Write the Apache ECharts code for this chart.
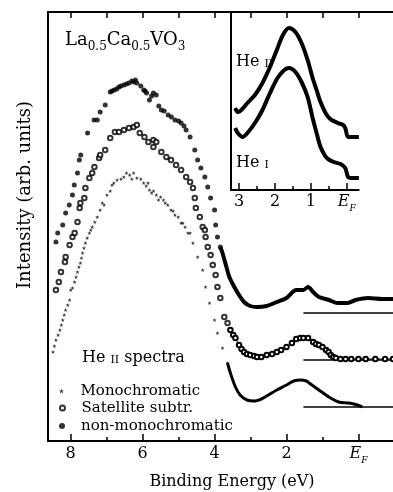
<!DOCTYPE html>
<html>
<head>
<meta charset="utf-8">
<script src="https://cdn.jsdelivr.net/npm/echarts@6/dist/echarts.min.js"></script>
<style>
  html, body { margin: 0; padding: 0; background: #fff; }
  #chart { width: 393px; height: 492px; }
</style>
</head>
<body>
<div id="chart"></div>
<script>
// --- data: [binding energy (eV), intensity (arb.)] ---
const monoDots = [
  [8.49,89],[8.45,95],[8.41,101],[8.35,106],[8.30,111],[8.26,116],[8.22,121],[8.18,126],[8.14,131],
  [8.08,136],[8.03,141],[8.00,151],[7.95,153],[7.89,159],[7.85,164],[7.81,169],[7.77,174],[7.73,178],
  [7.70,183],[7.67,188],[7.63,193],[7.59,198],[7.54,203],[7.48,208],[7.44,211],[7.40,214],[7.33,219],
  [7.26,224],[7.18,231],[7.12,238],[7.07,236],[6.99,246],[6.90,250],[6.85,256],[6.80,258],[6.71,261],
  [6.60,262],[6.52,264],[6.45,268],[6.36,266],[6.30,262],[6.25,268],[6.16,263],[6.05,262],[5.97,258],
  [5.90,255],[5.85,258],[5.81,251],[5.75,248],[5.70,250],[5.62,246],[5.56,241],[5.50,244],[5.42,241],
  [5.37,238],[5.30,236],[5.21,231],[5.15,230],[5.10,226],[5.01,224],[4.93,218],[4.88,218],[4.82,214],
  [4.74,208],[4.68,208],[4.60,198],[4.47,184],[4.33,171],[4.25,154],[4.14,138],[4.00,121],[3.92,108],
  [3.78,93],[3.64,78]
];
const monoTail = [
  [3.64,78],[3.56,68],[3.42,54],[3.29,46],[3.10,41],[2.90,40],[2.70,42],[2.55,45],[2.27,51],[2.00,56],
  [1.80,60],[1.60,61],[1.45,60],[1.37,58],[1.10,51],[0.82,44],[0.55,39],[0.27,38],[0.03,36],[-0.11,34]
];
const satDots = [
  [8.41,151],[8.33,159],[8.27,169],[8.16,179],[8.14,184],[8.03,196],[7.95,204],[7.89,208],[7.81,219],
  [7.75,233],[7.73,238],[7.62,243],[7.59,253],[7.48,263],[7.40,268],[7.34,274],[7.21,283],[7.18,286],
  [7.04,291],[6.90,303],[6.77,309],[6.66,309],[6.52,311],[6.38,313],[6.25,314],[6.16,316],[6.08,308],
  [5.95,304],[5.84,299],[5.70,301],[5.70,294],[5.62,299],[5.48,289],[5.34,284],[5.21,281],[5.07,276],
  [4.93,271],[4.79,264],[4.68,259],[4.60,253],[4.55,243],[4.52,233],[4.41,224],[4.33,214],[4.27,211],
  [4.25,204],[4.19,194],[4.11,186],[4.05,176],[3.97,166],[3.92,154],[3.84,143],[3.73,124],[3.64,118]
];
const satTail = [
  [3.56,111],[3.48,106],[3.42,103],[3.32,96],[3.25,92],[3.18,89],[3.10,87],[3.01,86],[2.90,85],[2.82,84],
  [2.70,84],[2.55,86],[2.40,87],[2.27,89],[2.15,91],[2.00,94],[1.85,98],[1.73,102],[1.62,103],[1.53,103],
  [1.40,103],[1.26,99],[1.18,97],[1.10,96],[1.00,94],[0.90,91],[0.83,89],[0.77,86],[0.70,84],[0.63,83],
  [0.50,82],[0.36,82],[0.20,82],[0.00,82],[-0.20,82],[-0.47,82],[-0.74,82],[-0.96,82]
];
const nonMonoDots = [
  [8.41,199],[8.36,208],[8.22,216],[8.14,228],[8.04,236],[7.95,246],[7.90,256],[7.81,268],[7.76,281],
  [7.72,286],[7.53,308],[7.35,321],[7.26,321],[7.18,329],[7.04,336],[6.90,349],[6.85,350],[6.79,351],
  [6.72,352],[6.66,354],[6.60,355],[6.52,356],[6.45,357],[6.38,358],[6.30,360],[6.25,359],[6.20,361],
  [6.16,358],[6.05,355],[5.97,351],[5.93,350],[5.89,348],[5.81,341],[5.75,345],[5.70,348],[5.62,346],
  [5.55,335],[5.48,331],[5.40,330],[5.29,326],[5.20,324],[5.10,321],[5.00,320],[4.93,318],[4.85,315],
  [4.79,311],[4.68,304],[4.55,291],[4.47,281],[4.38,273],[4.27,264],[4.19,254],[4.11,243],[4.00,231],
  [3.97,216],[3.92,204],[3.84,194]
];
const nonMonoTail = [
  [3.84,194],[3.78,188],[3.67,174],[3.59,164],[3.45,154],[3.32,146],[3.18,139],[3.01,135],[2.82,134],
  [2.55,135],[2.27,139],[2.00,143],[1.73,151],[1.53,151],[1.40,154],[1.26,149],[1.10,144],[0.82,141],
  [0.58,138],[0.30,138],[0.08,141],[-0.27,143],[-0.66,142],[-0.96,142]
];
const baselines = [128, 81, 34];
const baselineFrom = 1.53;

const insetHeII = [
  [3.11,82],[3.04,78],[2.94,80],[2.77,87],[2.56,95],[2.35,107],[2.14,123],[1.95,140],[1.78,155],[1.61,162],
  [1.43,158],[1.26,147],[1.09,130],[0.95,112],[0.84,100],[0.73,88],[0.59,77],[0.46,71],[0.25,67],[0.10,65],
  [0.04,62],[-0.04,53],[-0.17,53],[-0.34,53]
];
const insetHeI = [
  [3.11,62],[3.04,57],[2.90,53],[2.77,57],[2.56,67],[2.35,80],[2.14,97],[1.93,112],[1.74,120],[1.61,122],
  [1.43,118],[1.26,108],[1.09,93],[0.95,72],[0.84,57],[0.73,43],[0.60,34],[0.52,31],[0.36,28],[0.17,26],
  [0.04,22],[-0.04,13],[-0.17,12],[-0.34,12]
];

const mainMajorTicks = [0, 2, 4, 6, 8];
const mainMinorTicks = [1, 3, 5, 7];
const mainTopTicks = [0, 1, 2, 3, 4, 5, 6, 7, 8];
const insetMajorTicks = [0, 1, 2, 3];
const insetMinorTicks = [0.5, 1.5, 2.5];

const FONT = 'DejaVu Serif';
const STAR = 'path://M5,0 L6.2,3.8 L10,3.8 L7,6.2 L8.1,10 L5,7.6 L1.9,10 L3,6.2 L0,3.8 L3.8,3.8 Z';

// --- tick label with E_F ---
const efRich = {
  e: { fontFamily: FONT, fontSize: 16, fontStyle: 'italic', color: '#000', verticalAlign: 'bottom', padding: [0, 0, 3, 0] },
  f: { fontFamily: FONT, fontSize: 9, fontStyle: 'italic', color: '#000', verticalAlign: 'bottom' }
}
const tickFmt = v => (Math.abs(v) < 1e-6 ? '{e|E}{f|F}' : String(v))

const axisBase = (grid, min, max) => ({
  type: 'value', gridIndex: grid, min, max, inverse: true,
  splitLine: { show: false },
  axisLine: { show: false, lineStyle: { color: '#000', width: 2 } },
  axisTick: { show: false },
  axisLabel: { show: false }
})

// He II / He I style label, small-caps numeral
const heLabel = (num, extra) => ({
  text: '{a|He }{b|' + num + '}' + (extra ? '{a|' + extra + '}' : ''),
  verticalAlign: 'middle',
  rich: {
    a: { fontFamily: FONT, fontSize: 16, fill: '#000', verticalAlign: 'bottom' },
    b: { fontFamily: FONT, fontSize: 11, fill: '#000', verticalAlign: 'bottom' }
  }
})

const legendText = { fontFamily: FONT, fontSize: 15, color: '#000', lineHeight: 18 }

const myChart = echarts.init(document.getElementById('chart'), null, { renderer: 'canvas' })

const option = {
  backgroundColor: '#fff',
  animation: false,
  grid: [
    { left: 48, top: 12, width: 350, height: 429 },
    { left: 231, top: 12, width: 170, height: 178 }
  ],
  xAxis: [
    // 0: main bottom, major ticks + labels
    Object.assign(axisBase(0, -0.96, 8.63), {
      position: 'bottom',
      axisLine: { show: true, onZero: false, lineStyle: { color: '#000', width: 2 } },
      axisTick: { show: true, inside: true, length: 7, customValues: mainMajorTicks, lineStyle: { color: '#000', width: 1.5 } },
      axisLabel: { show: true, customValues: mainMajorTicks, formatter: tickFmt, rich: efRich,
        fontFamily: FONT, fontSize: 16, color: '#000', margin: 5 }
    }),
    // 1: main bottom, minor ticks
    Object.assign(axisBase(0, -0.96, 8.63), {
      position: 'bottom',
      axisTick: { show: true, inside: true, length: 4, customValues: mainMinorTicks, lineStyle: { color: '#000', width: 1.5 } }
    }),
    // 2: main top
    Object.assign(axisBase(0, -0.96, 8.63), {
      position: 'top',
      axisLine: { show: true, onZero: false, lineStyle: { color: '#000', width: 2 } },
      axisTick: { show: true, inside: true, length: 6, customValues: mainTopTicks, lineStyle: { color: '#000', width: 1.5 } }
    }),
    // 3: inset bottom, major
    Object.assign(axisBase(1, -0.335, 3.228), {
      position: 'bottom',
      axisLine: { show: true, onZero: false, lineStyle: { color: '#000', width: 2 } },
      axisTick: { show: true, inside: true, length: 7, customValues: insetMajorTicks, lineStyle: { color: '#000', width: 1.5 } },
      axisLabel: { show: true, customValues: insetMajorTicks, formatter: tickFmt, rich: efRich,
        fontFamily: FONT, fontSize: 16, color: '#000', margin: 4 }
    }),
    // 4: inset bottom, minor
    Object.assign(axisBase(1, -0.335, 3.228), {
      position: 'bottom',
      axisTick: { show: true, inside: true, length: 4, customValues: insetMinorTicks, lineStyle: { color: '#000', width: 1.5 } }
    })
  ],
  yAxis: [
    { type: 'value', gridIndex: 0, min: 0, max: 429, splitLine: { show: false },
      axisLine: { show: true, onZero: false, lineStyle: { color: '#000', width: 2 } },
      axisTick: { show: false }, axisLabel: { show: false } },
    { type: 'value', gridIndex: 1, min: 0, max: 178, splitLine: { show: false },
      axisLine: { show: true, onZero: false, lineStyle: { color: '#000', width: 2 } },
      axisTick: { show: false }, axisLabel: { show: false } }
  ],
  legend: [
    { data: [{ name: 'Monochromatic', icon: STAR }], left: 54, top: 377, itemWidth: 28, itemHeight: 5,
      selectedMode: false, textStyle: legendText },
    { data: [{ name: 'Satellite subtr.', icon: 'emptyCircle' }], left: 54, top: 394, itemWidth: 28, itemHeight: 5,
      selectedMode: false, textStyle: legendText },
    { data: [{ name: 'non-monochromatic', icon: 'circle' }], left: 54, top: 412, itemWidth: 28, itemHeight: 6,
      selectedMode: false, textStyle: legendText }
  ],
  series: [
    { name: 'Monochromatic', type: 'scatter', xAxisIndex: 0, yAxisIndex: 0, data: monoDots,
      symbol: STAR, symbolSize: 4, itemStyle: { color: '#000' } },
    { name: 'Monochromatic', type: 'line', xAxisIndex: 0, yAxisIndex: 0, data: monoTail, smooth: 0.3,
      showSymbol: false, lineStyle: { color: '#000', width: 3 }, itemStyle: { color: '#000' } },
    { name: 'Satellite subtr.', type: 'scatter', xAxisIndex: 0, yAxisIndex: 0, data: satDots,
      symbol: 'emptyCircle', symbolSize: 4.5, itemStyle: { color: '#000', borderWidth: 1 } },
    { name: 'Satellite subtr.', type: 'line', xAxisIndex: 0, yAxisIndex: 0, data: satTail, smooth: 0.3,
      symbol: 'emptyCircle', symbolSize: 4.5, showAllSymbol: true,
      lineStyle: { color: '#000', width: 1 }, itemStyle: { color: '#000', borderWidth: 1 } },
    { name: 'non-monochromatic', type: 'scatter', xAxisIndex: 0, yAxisIndex: 0, data: nonMonoDots,
      symbol: 'circle', symbolSize: 5, itemStyle: { color: '#000' } },
    { name: 'non-monochromatic', type: 'line', xAxisIndex: 0, yAxisIndex: 0, data: nonMonoTail, smooth: 0.3,
      showSymbol: false, lineStyle: { color: '#000', width: 4 }, itemStyle: { color: '#000' } },
    ...baselines.map(b => ({
      type: 'line', xAxisIndex: 0, yAxisIndex: 0, data: [[baselineFrom, b], [-0.96, b]],
      showSymbol: false, lineStyle: { color: '#000', width: 1.5 }, silent: true
    })),
    { type: 'line', xAxisIndex: 3, yAxisIndex: 1, data: insetHeII, smooth: 0.3, showSymbol: false,
      lineStyle: { color: '#000', width: 4 } },
    { type: 'line', xAxisIndex: 3, yAxisIndex: 1, data: insetHeI, smooth: 0.3, showSymbol: false,
      lineStyle: { color: '#000', width: 4 } }
  ],
  graphic: [
    { type: 'text', x: 65, y: 42, style: {
        text: '{n|La}{s|0.5}{n|Ca}{s|0.5}{n|VO}{s|3}', verticalAlign: 'middle',
        rich: {
          n: { fontFamily: FONT, fontSize: 18, fill: '#000', verticalAlign: 'bottom', padding: [0, 0, 4, 0] },
          s: { fontFamily: FONT, fontSize: 12, fill: '#000', verticalAlign: 'bottom' }
        } } },
    { type: 'text', x: 236, y: 62, style: heLabel('II') },
    { type: 'text', x: 236, y: 163, style: heLabel('I') },
    { type: 'text', x: 82, y: 358, style: heLabel('II', ' spectra') },
    { type: 'text', x: 232, y: 482, style: {
        text: 'Binding Energy (eV)', fontFamily: FONT, fontSize: 16, fill: '#000',
        align: 'center', verticalAlign: 'middle' } },
    { type: 'text', x: 25, y: 195, rotation: Math.PI / 2, style: {
        text: 'Intensity (arb. units)', fontFamily: FONT, fontSize: 18, fill: '#000',
        align: 'center', verticalAlign: 'middle' } }
  ]
}

myChart.setOption(option)
</script>
</body>
</html>
